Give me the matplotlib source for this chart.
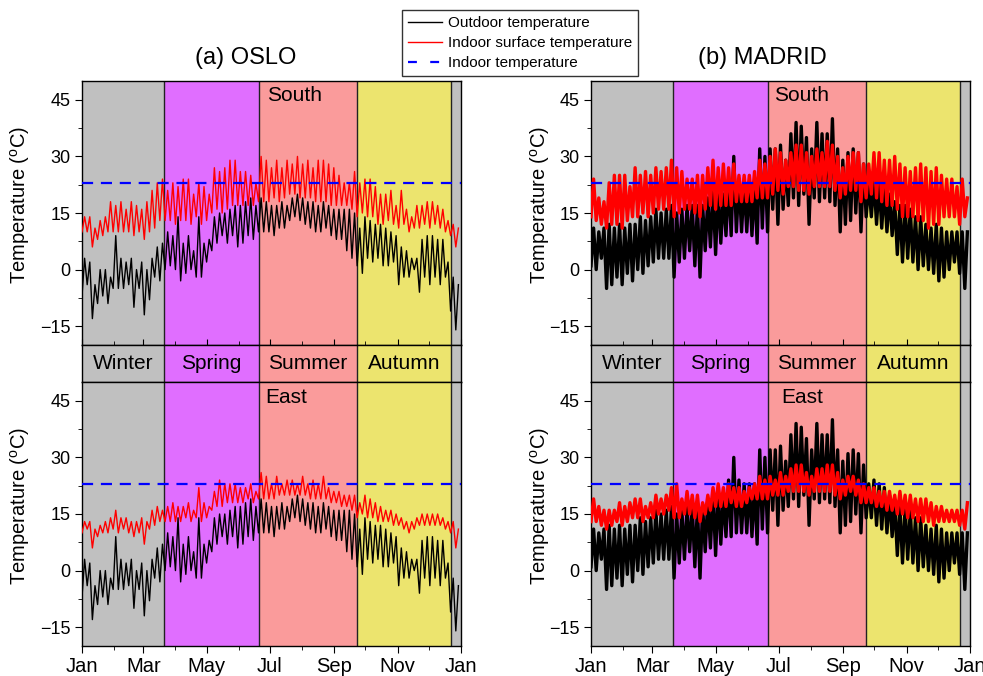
import numpy as np
import pandas as pd
import matplotlib
matplotlib.use('Agg')
import matplotlib.pyplot as plt
import matplotlib.dates as mdates
import matplotlib.transforms as mtransforms
from matplotlib.lines import Line2D

plt.rcParams['font.family'] = ['Liberation Sans', 'DejaVu Sans']
plt.rcParams['mathtext.fontset'] = 'custom'
plt.rcParams['mathtext.rm'] = 'Liberation Sans'
plt.rcParams['mathtext.it'] = 'Liberation Sans:italic'

# samples every 5 days, low / high of the hourly trace in each window (deg C)
sample_dates = pd.date_range('2015-01-01', periods=73, freq='5D')

oslo_out_hi = [3, 2, -4, 0, 0, -2, 9, 3, 2, 3,
               0, 2, 0, 3, 6, 7, 10, 9, 14, 7,
               9, 5, 14, 7, 8, 14, 15, 15, 16, 17,
               17, 18, 19, 17, 19, 18, 17, 17, 18, 17,
               19, 20, 19, 18, 18, 17, 18, 17, 16, 16,
               16, 16, 15, 11, 14, 13, 12, 12, 11, 10,
               9, 6, 5, 3, 3, 8, 9, 9, 8, 8,
               2, -2, -4]
oslo_out_lo = [-7, -4, -13, -9, -7, -9, -5, -5, -5, -4,
               -10, -5, -12, -8, -2, -3, 0, 1, 0, -3,
               -1, 0, -2, -2, 2, 5, 7, 9, 7, 9,
               6, 7, 9, 8, 10, 10, 10, 9, 11, 11,
               13, 14, 13, 12, 11, 10, 10, 11, 9, 8,
               8, 5, 3, 1, -1, 3, 2, 3, 1, 1,
               2, -4, -2, -2, 0, -6, -2, -4, -2, -4,
               -2, -11, -16]

oslo_south_hi = [14, 14, 11, 13, 14, 18, 17, 18, 16, 18,
                 17, 16, 18, 21, 23, 24, 21, 23, 22, 24,
                 24, 20, 23, 22, 20, 27, 26, 27, 29, 29,
                 26, 26, 25, 23, 30, 29, 27, 29, 27, 29,
                 28, 30, 28, 29, 27, 29, 29, 28, 27, 25,
                 23, 23, 26, 23, 24, 24, 22, 20, 20, 21,
                 17, 21, 16, 14, 17, 17, 18, 18, 17, 16,
                 13, 12, 11]
oslo_south_lo = [10, 10, 6, 8, 9, 10, 10, 10, 10, 10,
                 9, 10, 8, 10, 11, 13, 13, 13, 12, 13,
                 13, 12, 14, 12, 13, 15, 16, 15, 16, 17,
                 17, 17, 17, 17, 18, 18, 18, 19, 18, 19,
                 20, 20, 19, 19, 19, 18, 18, 18, 17, 17,
                 17, 17, 16, 14, 15, 14, 14, 12, 12, 13,
                 12, 11, 12, 10, 11, 11, 12, 11, 12, 11,
                 10, 9, 6]

oslo_east_hi = [13, 13, 11, 12, 13, 14, 16, 14, 14, 13,
                13, 14, 13, 16, 17, 16, 17, 18, 17, 17,
                18, 16, 22, 18, 17, 21, 24, 23, 23, 23,
                22, 22, 23, 21, 26, 25, 23, 25, 23, 24,
                24, 23, 25, 23, 24, 23, 25, 22, 21, 21,
                20, 20, 20, 18, 20, 19, 18, 17, 16, 16,
                15, 14, 13, 13, 14, 15, 15, 15, 15, 14,
                13, 13, 11]
oslo_east_lo = [10, 11, 6, 9, 10, 10, 11, 10, 11, 10,
                9, 10, 7, 11, 12, 13, 13, 13, 13, 13,
                14, 13, 14, 13, 14, 16, 17, 17, 18, 18,
                18, 18, 19, 18, 19, 19, 19, 19, 20, 20,
                20, 20, 20, 20, 19, 19, 19, 19, 18, 18,
                17, 17, 16, 14, 15, 14, 14, 13, 13, 13,
                12, 12, 11, 10, 11, 12, 12, 12, 12, 12,
                11, 10, 6]

madrid_out_hi = [11, 10, 11, 12, 11, 12, 11, 12, 12, 14,
                 13, 14, 16, 15, 16, 17, 15, 16, 17, 17,
                 17, 17, 19, 21, 21, 20, 24, 30, 24, 23,
                 23, 23, 32, 30, 32, 32, 33, 29, 36, 39,
                 38, 35, 32, 39, 36, 36, 40, 32, 29, 31,
                 32, 31, 28, 23, 24, 23, 22, 20, 18, 17,
                 17, 16, 14, 14, 12, 11, 12, 11, 10, 10,
                 10, 10, 10]
madrid_out_lo = [1, 0, 3, -5, -4, -2, -4, -1, -3, 0,
                 -1, 1, 2, 3, 3, 3, -2, 2, 3, 5,
                 1, -2, 5, 6, 4, 7, 9, 9, 10, 10,
                 10, 9, 7, 11, 10, 16, 12, 16, 17, 19,
                 17, 20, 12, 19, 18, 19, 18, 17, 10, 12,
                 13, 15, 10, 14, 14, 12, 11, 10, 9, 4,
                 2, 3, 2, 0, 1, 0, -1, -3, -2, 0,
                 2, -1, -5]

madrid_south_hi = [24, 19, 18, 23, 25, 25, 25, 22, 27, 25,
                   26, 25, 27, 26, 27, 29, 27, 26, 24, 24,
                   25, 25, 27, 29, 27, 28, 27, 28, 25, 25,
                   25, 26, 29, 28, 30, 32, 31, 29, 31, 33,
                   33, 31, 30, 32, 31, 34, 33, 30, 27, 30,
                   31, 31, 28, 28, 31, 31, 29, 29, 30, 28,
                   27, 26, 27, 28, 27, 26, 27, 25, 24, 24,
                   22, 24, 19]
madrid_south_lo = [14, 13, 12, 11, 12, 12, 11, 13, 14, 14,
                   15, 14, 15, 16, 16, 16, 14, 15, 16, 16,
                   15, 14, 16, 17, 16, 17, 17, 17, 18, 18,
                   18, 18, 19, 19, 19, 20, 21, 20, 22, 22,
                   21, 21, 20, 22, 22, 22, 22, 21, 19, 20,
                   21, 21, 18, 19, 20, 19, 18, 17, 17, 16,
                   14, 14, 14, 13, 13, 11, 12, 12, 14, 14,
                   14, 12, 14]

madrid_east_hi = [19, 17, 16, 16, 16, 18, 17, 18, 19, 19,
                  17, 18, 20, 19, 20, 22, 23, 19, 21, 20,
                  20, 18, 20, 22, 23, 22, 23, 22, 22, 21,
                  22, 23, 25, 24, 25, 24, 26, 25, 27, 28,
                  28, 26, 25, 27, 27, 28, 28, 26, 24, 25,
                  25, 24, 23, 22, 22, 21, 21, 21, 20, 21,
                  20, 20, 19, 19, 19, 18, 17, 17, 16, 16,
                  16, 16, 18]
madrid_east_lo = [13, 13, 12, 11, 12, 13, 12, 13, 14, 14,
                  13, 14, 14, 15, 15, 16, 14, 14, 15, 15,
                  14, 13, 15, 16, 17, 17, 17, 18, 17, 17,
                  18, 19, 19, 19, 19, 20, 20, 20, 21, 21,
                  21, 21, 20, 21, 21, 21, 21, 20, 19, 20,
                  21, 20, 18, 18, 18, 17, 17, 16, 16, 15,
                  15, 14, 14, 13, 13, 13, 12, 13, 13, 13,
                  13, 12, 11]

indoor_setpoint = 23

season_names = ['Winter', 'Spring', 'Summer', 'Autumn', 'Winter']
season_start = ['2015-01-01', '2015-03-21', '2015-06-20', '2015-09-23', '2015-12-22']
season_end = ['2015-03-21', '2015-06-20', '2015-09-23', '2015-12-22', '2016-01-01']
season_colors = ['#C0C0C0', '#E06EFF', '#FA9B9B', '#ECE46E', '#C0C0C0']

x_start = pd.Timestamp('2015-01-01')
x_end = pd.Timestamp('2016-01-01')

W, H = 983, 676
fig = plt.figure(figsize=(W / 100, H / 100), dpi=100)


def px_axes(x0, y0, x1, y1):
    return fig.add_axes([x0 / W, 1 - y1 / H, (x1 - x0) / W, (y1 - y0) / H])


def zigzag(lo, hi):
    # alternate low / high of each window -> jagged hourly-looking trace
    t = np.empty(2 * len(lo), dtype='datetime64[ns]')
    t[0::2] = sample_dates.values
    t[1::2] = (sample_dates + pd.Timedelta(hours=60)).values
    v = np.empty(2 * len(lo))
    v[0::2] = lo
    v[1::2] = hi
    return t, v


def seasons(ax):
    for s, e, c in zip(season_start, season_end, season_colors):
        ax.axvspan(pd.Timestamp(s), pd.Timestamp(e), color=c, lw=0, zorder=0)
    for s in season_start[1:]:
        ax.axvline(pd.Timestamp(s), color='#222222', lw=1.0, zorder=0.5)
    ax.set_xlim(x_start, x_end)
    for sp in ax.spines.values():
        sp.set_linewidth(1.0)


def panel(ax, out_lo, out_hi, in_lo, in_hi, lw, label, lab_x, lab_y, ylab_x):
    seasons(ax)
    t, v = zigzag(out_lo, out_hi)
    ax.plot(t, v, color='black', lw=lw, zorder=2)
    t, v = zigzag(in_lo, in_hi)
    ax.plot(t, v, color='red', lw=lw, zorder=4)
    ax.axhline(indoor_setpoint, color='#0000FF', lw=1.6, ls=(0, (5, 3.5)), zorder=5)
    ax.set_ylim(-20, 50)
    ax.set_yticks([-15, 0, 15, 30, 45])
    ax.set_yticks([-7.5, 7.5, 22.5, 37.5], minor=True)
    ax.tick_params(axis='y', which='major', direction='out', length=5, labelsize=13)
    ax.tick_params(axis='y', which='minor', direction='out', length=3)
    ax.set_ylabel('Temperature ($^{\\rm o}$C)', fontsize=14.5)
    ax.yaxis.set_label_coords(ylab_x, 0.53)
    ax.xaxis.set_major_locator(mdates.MonthLocator(bymonth=[1, 3, 5, 7, 9, 11]))
    ax.xaxis.set_minor_locator(mdates.MonthLocator())
    ax.xaxis.set_major_formatter(mdates.DateFormatter('%b'))
    ax.text(lab_x, lab_y, label, transform=ax.transAxes, fontsize=15,
            ha='left', va='center', zorder=6)


cols = [
    dict(x0=82, x1=461, out=(oslo_out_lo, oslo_out_hi), south=(oslo_south_lo, oslo_south_hi),
         east=(oslo_east_lo, oslo_east_hi), lw=1.0, ylab=-0.132,
         title='(a) OSLO', tx=246, south_x=0.488, east_x=0.483),
    dict(x0=591, x1=970, out=(madrid_out_lo, madrid_out_hi), south=(madrid_south_lo, madrid_south_hi),
         east=(madrid_east_lo, madrid_east_hi), lw=2.4, ylab=-0.103,
         title='(b) MADRID', tx=762, south_x=0.483, east_x=0.503),
]

for c in cols:
    top = px_axes(c['x0'], 81, c['x1'], 345)
    strip = px_axes(c['x0'], 345, c['x1'], 382)
    bot = px_axes(c['x0'], 382, c['x1'], 646)

    panel(top, c['out'][0], c['out'][1], c['south'][0], c['south'][1], c['lw'],
          'South', c['south_x'], 0.945, c['ylab'])
    top.tick_params(axis='x', which='both', direction='in', labelbottom=False)
    top.tick_params(axis='x', which='major', length=4)
    top.tick_params(axis='x', which='minor', length=3)

    panel(bot, c['out'][0], c['out'][1], c['east'][0], c['east'][1], c['lw'],
          'East', c['east_x'], 0.94, c['ylab'])
    bot.tick_params(axis='x', which='major', direction='out', length=5, labelsize=14.5, pad=3)
    bot.tick_params(axis='x', which='minor', direction='out', length=3)

    seasons(strip)
    strip.set_ylim(0, 1)
    strip.set_xticks([])
    strip.set_yticks([])
    trans = mtransforms.blended_transform_factory(strip.transData, strip.transAxes)
    for name, s, e in zip(season_names[:4], season_start[:4], season_end[:4]):
        mid = pd.Timestamp(s) + (pd.Timestamp(e) - pd.Timestamp(s)) / 2
        strip.text(mid, 0.5, name, transform=trans, ha='center', va='center', fontsize=15)

    fig.text(c['tx'] / W, 1 - 58 / H, c['title'], ha='center', va='center', fontsize=17)

handles = [Line2D([], [], color='black', lw=1.0),
           Line2D([], [], color='red', lw=1.0),
           Line2D([], [], color='#0000FF', lw=1.6, ls=(0, (4, 6)))]
labels = ['Outdoor temperature', 'Indoor surface temperature', 'Indoor temperature']
leg = fig.legend(handles, labels, loc='upper center', bbox_to_anchor=(520 / W, 1 - 10 / H),
                 fontsize=11, frameon=True, fancybox=False, edgecolor='black',
                 handlelength=2.2, handletextpad=0.4, borderpad=0.4, labelspacing=0.4,
                 borderaxespad=0)
leg.get_frame().set_linewidth(1.0)

fig.savefig('out.png', dpi=100)
